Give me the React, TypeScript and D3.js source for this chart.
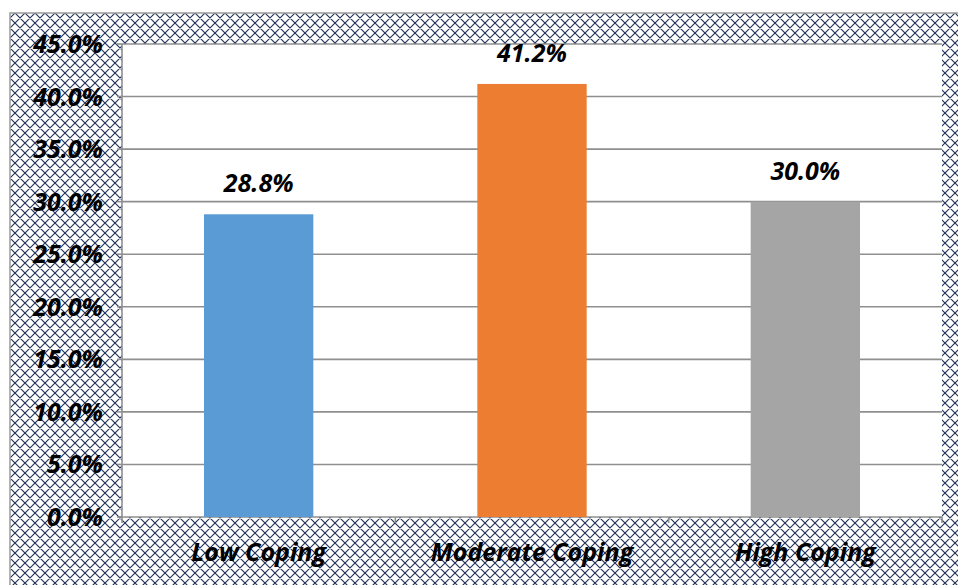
import React from "react";
import * as d3 from "d3";

const categories = ["Low Coping", "Moderate Coping", "High Coping"];
const values = [28.8, 41.2, 30.0];
const barColors = ["#5b9bd5", "#ed7d31", "#a5a5a5"];
const yTicks = [0, 5, 10, 15, 20, 25, 30, 35, 40, 45];

const W = 958;
const H = 585;
const frame = { x: 10, y: 13 };
const plot = { left: 122, top: 44, right: 942, bottom: 517 };
const FONT = "'Open Sans', 'Noto Sans', sans-serif";
const P = 10;

export default function App() {
  const x = d3
    .scaleBand<string>()
    .domain(categories)
    .range([plot.left, plot.right])
    .paddingInner(0.6)
    .paddingOuter(0.3);
  const band = d3.scaleBand<string>().domain(categories).range([plot.left, plot.right]);
  const y = d3.scaleLinear().domain([0, 45]).range([plot.bottom, plot.top]);
  const bounds = [plot.left, ...categories.map((c) => (band(c) as number) + band.bandwidth())];

  const textProps = {
    fontFamily: FONT,
    fontWeight: "bold" as const,
    fontStyle: "italic" as const,
    fill: "#000",
  };

  return (
    <svg
      width={W}
      height={H}
      style={{ position: "absolute", left: 0, top: 0, display: "block" }}
    >
      <defs>
        <pattern id="hatch" width={P} height={P} patternUnits="userSpaceOnUse" x={frame.x + 5} y={frame.y}>
          <rect width={P} height={P} fill="#ffffff" />
          <path
            d={`M0,0 L${P},${P} M-1,${P - 1} L1,${P + 1} M${P - 1},-1 L${P + 1},1 M${P},0 L0,${P} M-1,1 L1,-1 M${P - 1},${P + 1} L${P + 1},${P - 1}`}
            stroke="#22325a"
            strokeWidth={1.15}
          />
        </pattern>
      </defs>
      <rect x={0} y={0} width={W} height={H} fill="#ffffff" />
      <rect x={frame.x} y={frame.y} width={W - frame.x + 2} height={H - frame.y + 2} fill="url(#hatch)" stroke="#9a9a9a" strokeWidth={1.5} />
      <rect x={plot.left} y={plot.top} width={plot.right - plot.left} height={plot.bottom - plot.top} fill="#ffffff" />
      {yTicks.map((t) => (
        <g key={t}>
          <line x1={plot.left} x2={plot.right} y1={y(t)} y2={y(t)} stroke="#8f8f8f" strokeWidth={1.6} />
          <line x1={plot.left - 5} x2={plot.left} y1={y(t)} y2={y(t)} stroke="#8f8f8f" strokeWidth={1.6} />
          <text x={103} y={y(t)} dy="0.36em" textAnchor="end" fontSize={25} {...textProps}>
            {t.toFixed(1)}%
          </text>
        </g>
      ))}
      <line x1={plot.left} x2={plot.left} y1={plot.top} y2={plot.bottom} stroke="#8f8f8f" strokeWidth={1.6} />
      {bounds.map((b, i) => (
        <line key={i} x1={b} x2={b} y1={plot.bottom} y2={plot.bottom + 6} stroke="#8f8f8f" strokeWidth={1.6} />
      ))}
      {categories.map((c, i) => (
        <g key={c}>
          <rect
            x={x(c)}
            y={y(values[i])}
            width={x.bandwidth()}
            height={plot.bottom - y(values[i])}
            fill={barColors[i]}
          />
          <text
            x={(x(c) as number) + x.bandwidth() / 2}
            y={y(values[i]) - 22}
            textAnchor="middle"
            fontSize={25}
            {...textProps}
          >
            {values[i].toFixed(1)}%
          </text>
          <text
            x={(band(c) as number) + band.bandwidth() / 2}
            y={561}
            textAnchor="middle"
            fontSize={25}
            {...textProps}
          >
            {c}
          </text>
        </g>
      ))}
    </svg>
  );
}
